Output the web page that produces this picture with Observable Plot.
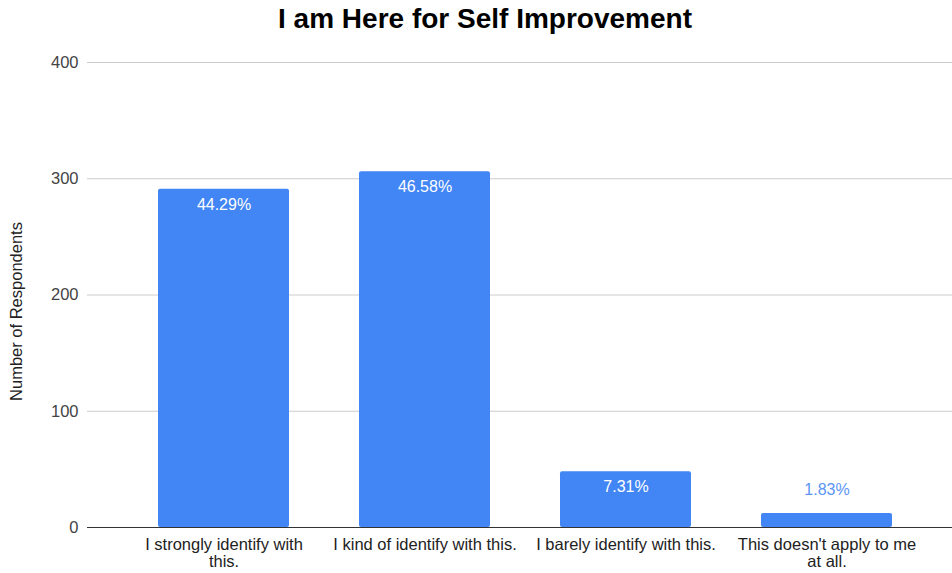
<!DOCTYPE html>
<html>
<head>
<meta charset="utf-8">
<script src="https://cdn.jsdelivr.net/npm/d3@7"></script>
<script src="https://cdn.jsdelivr.net/npm/@observablehq/plot@0.6"></script>
<style>
  html, body { margin: 0; padding: 0; background: #fff; }
  #wrap { width: 952px; height: 573px; position: relative; overflow: hidden; }
  #title { height: 40px; width: 952px; position: relative; font-family: "Liberation Sans", Arial, sans-serif; font-weight: bold; font-size: 28px; line-height: 28px; color: #000; }
  #title span { position: absolute; left: 485px; top: 5px; transform: translateX(-50%); white-space: nowrap; }
  svg { display: block; }
</style>
</head>
<body>
<div id="wrap">
  <div id="title"><span>I am Here for Self Improvement</span></div>
  <div id="chart"></div>
</div>
<script>
const chartTitle = "I am Here for Self Improvement";
const yLabel = "Number of Respondents";
const categories = [
  "I strongly identify with this.",
  "I kind of identify with this.",
  "I barely identify with this.",
  "This doesn't apply to me at all."
];
const tickLabels = [
  "I strongly identify with\nthis.",
  "I kind of identify with this.",
  "I barely identify with this.",
  "This doesn't apply to me\nat all."
];
const counts = [291, 306, 48, 12];
const percentLabels = ["44.29%", "46.58%", "7.31%", "1.83%"];
const yTicks = [0, 100, 200, 300, 400];

const data = categories.map((c, i) => ({
  category: c,
  count: counts[i],
  label: percentLabels[i],
  tick: tickLabels[i]
}));
const tickMap = new Map(data.map(d => [d.category, d.tick]));
const inside = data.filter(d => d.count > 30);
const outside = data.filter(d => d.count <= 30);

const font = '"Liberation Sans", Arial, sans-serif';

const chart = Plot.plot({
  width: 952,
  height: 533,
  marginTop: 22,
  marginBottom: 46,
  marginLeft: 87,
  marginRight: 0,
  style: { fontFamily: font, fontSize: "16px", background: "#fff" },
  x: {
    domain: categories,
    range: [122.5, 926.5],
    paddingInner: 0.35,
    paddingOuter: 0.175,
    align: 0.5
  },
  y: { domain: [0, 400] },
  marks: [
    Plot.ruleY(yTicks.filter(t => t > 0), { stroke: "#cccccc", strokeWidth: 1 }),
    Plot.barY(data, { x: "category", y: "count", fill: "#4285f4", rx: 2 }),
    Plot.ruleY([0], { stroke: "#333333", strokeWidth: 1 }),
    Plot.text(inside, { x: "category", y: "count", text: "label", fill: "#ffffff", dy: 15.5, fontSize: 16 }),
    Plot.text(outside, { x: "category", y: "count", text: "label", fill: "#5b95f5", dy: -24, fontSize: 16 }),
    Plot.axisY({ ticks: yTicks, tickSize: 0, tickPadding: 9, label: null, fill: "#444444", fontSize: 16.5 }),
    Plot.axisX({ tickSize: 0, tickPadding: 11, label: null, tickFormat: d => tickMap.get(d), fill: "#222222", fontSize: 16.5, lineHeight: 1.02 }),
    Plot.text([yLabel], { frameAnchor: "left", textAnchor: "middle", rotate: -90, dx: -71, dy: 16.5, fill: "#222222", fontSize: 16.5 })
  ]
});
document.getElementById("chart").appendChild(chart);
</script>
</body>
</html>
